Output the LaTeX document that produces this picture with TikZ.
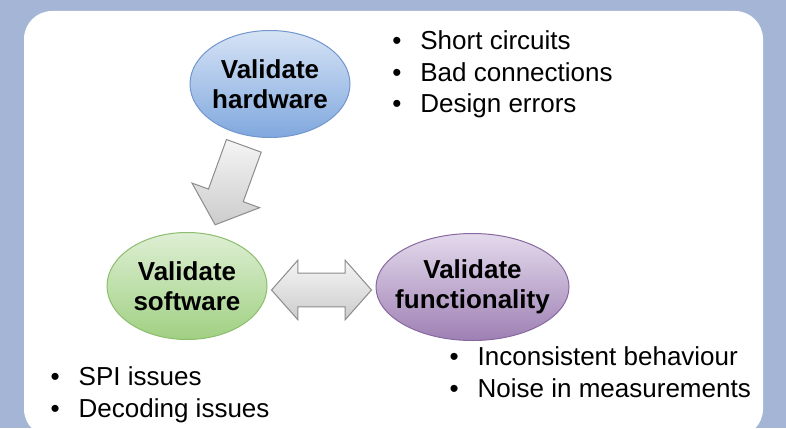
\documentclass[tikz,border=0pt]{standalone}
\usepackage{fontspec}
\setmainfont{Liberation Sans}
\usetikzlibrary{shapes.geometric,shapes.arrows,calc}
\definecolor{bgblue}{RGB}{164,181,214}
\definecolor{hwtop}{RGB}{214,227,245}
\definecolor{hwbot}{RGB}{128,168,222}
\definecolor{hwline}{RGB}{112,150,205}
\definecolor{swtop}{RGB}{222,239,212}
\definecolor{swbot}{RGB}{160,208,130}
\definecolor{swline}{RGB}{140,190,110}
\definecolor{fntop}{RGB}{228,218,236}
\definecolor{fnbot}{RGB}{158,128,180}
\definecolor{fnline}{RGB}{135,105,160}
\definecolor{arrline}{RGB}{140,140,140}
\newcommand{\bitem}[1]{\makebox[28pt][l]{\textbullet}#1}
\tikzset{
  stage/.style={ellipse, draw=#1line, top color=#1top, bottom color=#1bot, line width=1pt,
    inner xsep=-12pt, inner ysep=0pt, minimum height=107pt, align=center,
    font=\bfseries\fontsize{26}{30}\selectfont},
  notes/.style={anchor=base west, align=left, inner sep=0pt, font=\fontsize{26}{31.5}\selectfont},
  blockarrow/.style={draw=arrline, top color=gray!8, bottom color=gray!40, line width=1pt,
    inner sep=0pt}
}
\begin{document}
\begin{tikzpicture}[x=1pt, y=-1pt]
  \useasboundingbox (0,0) rectangle (786,428);
  \clip (0,0) rectangle (786,428);
  \fill[bgblue] (0,0) rectangle (786,428);
  \fill[white, rounded corners=28pt] (24,11) rectangle (763,437);
  % stages
  \node[stage=hw, minimum width=160pt] (hw) at (270,84) {Validate\\hardware};
  \node[stage=sw, minimum width=160pt] (sw) at (187,286) {Validate\\software};
  \node[stage=fn, minimum width=193pt] (fn) at (472.5,287) {Validate\\functionality};
  % block arrows
  \node[blockarrow, single arrow, minimum height=84pt, inner ysep=18pt,
    single arrow head extend=17.5pt, single arrow tip angle=98, rotate=-110, anchor=tip]
    (down) at ($(hw)!0.7!(sw)+(3,0)$) {};
  \node[blockarrow, double arrow, minimum height=100pt, inner ysep=16.3pt,
    double arrow head extend=13pt, double arrow tip angle=97]
    (both) at ($($(sw.east)!0.5!(fn.west)$)+(0,3.5)$) {};
  % notes (anchored at the last line)
  \node[notes] (hwnotes) at (392.2,112.5)
    {\bitem{Short circuits}\\\bitem{Bad connections}\\\bitem{Design errors}};
  \node[notes] (swnotes) at (50.5,417)
    {\bitem{SPI issues}\\\bitem{Decoding issues}};
  \node[notes] (fnnotes) at (449.5,397)
    {\bitem{Inconsistent behaviour}\\\bitem{Noise in measurements}};
\end{tikzpicture}
\end{document}
